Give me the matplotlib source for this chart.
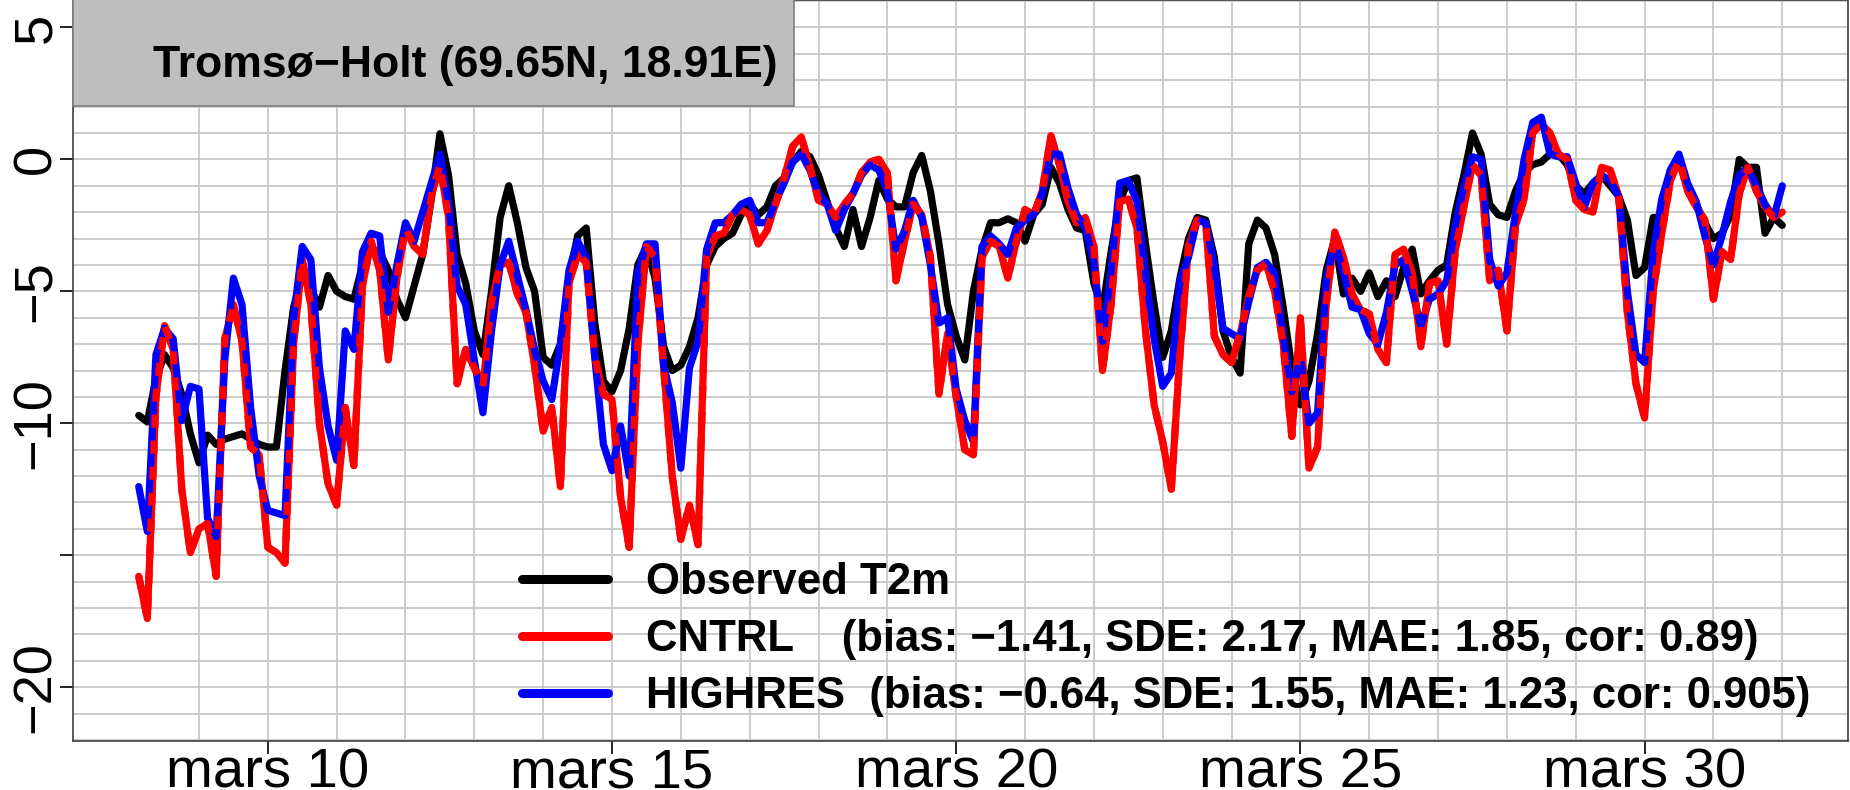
import matplotlib
matplotlib.use("Agg")
import matplotlib.pyplot as plt
from matplotlib.patches import Rectangle
from matplotlib.lines import Line2D
import numpy as np
import pandas as pd

# ---------------- data ----------------
start_time = "2018-03-08 03:00"
n_steps = 192          # 3-hourly values

observed = [
    -9.7, -9.95, -8.3, -7.4, -7.9, -8.9, -10.4, -11.5, -10.45, -10.8,
    -10.6, -10.5, -10.4, -10.6, -10.8, -10.9, -10.9, -8.0, -5.6, -4.4,
    -4.9, -5.6, -4.4, -5.0, -5.2, -5.3, -4.0, -3.4, -3.5, -4.2,
    -5.3, -6.0, -4.8, -3.6, -1.5, 0.97, -0.6, -3.6, -4.7, -6.5,
    -7.4, -5.0, -2.2, -1.0, -2.4, -4.1, -5.0, -7.5, -7.8, -7.0,
    -4.5, -2.9, -2.6, -6.2, -8.4, -8.8, -8.0, -6.4, -4.0, -3.3,
    -4.5, -7.1, -8.0, -7.8, -7.1, -6.0, -4.0, -3.3, -3.0, -2.8,
    -2.1, -1.7, -2.1, -1.8, -1.0, -0.7, -0.1, 0.3, 0.1, -0.6,
    -1.6, -2.6, -3.3, -1.9, -3.3, -2.2, -0.8, -1.5, -1.8, -1.8,
    -0.5, 0.15, -1.2, -3.2, -5.5, -6.7, -7.6, -5.0, -3.4, -2.4,
    -2.4, -2.25, -2.4, -3.1, -2.1, -1.7, -0.3, -0.9, -1.9, -2.6,
    -2.7, -4.7, -5.7, -3.5, -1.6, -0.8, -0.7, -3.2, -5.5, -7.5,
    -6.5, -4.5, -3.0, -2.2, -2.3, -3.7, -6.5, -7.5, -8.1, -3.2,
    -2.3, -2.6, -3.6, -5.6, -7.9, -9.3, -8.4, -6.6, -4.2, -3.0,
    -5.1, -4.5, -5.0, -4.3, -5.2, -4.6, -5.2, -4.1, -3.4, -5.1,
    -4.6, -4.2, -4.0, -2.0, -0.6, 1.0, 0.2, -1.7, -2.1, -2.2,
    -1.2, -0.5, -0.2, -0.1, 0.2, 0.2, -0.2, -1.0, -1.3, -0.9,
    -0.6, -1.0, -1.4, -2.3, -4.4, -4.1, -2.2, -2.2, -0.4, 0.1,
    -1.05, -1.7, -2.4, -3.0, -2.8, -2.1, 0.0, -0.3, -0.3, -2.8,
    -2.2, -2.5,
]

cntrl = [
    -15.8, -17.4, -9.0, -6.3, -7.2, -12.5, -14.9, -14.0, -13.8, -15.8,
    -6.8, -5.5, -6.9, -10.9, -11.2, -14.7, -14.9, -15.3, -7.0, -3.8,
    -5.5, -10.0, -12.3, -13.1, -9.4, -11.6, -4.8, -3.1, -4.2, -7.6,
    -4.5, -2.6, -3.3, -3.6, -1.4, -0.2, -2.2, -8.5, -7.2, -7.9,
    -8.6, -5.4, -4.0, -3.9, -5.1, -5.8, -7.8, -10.3, -9.4, -12.4,
    -4.7, -3.6, -3.9, -7.5, -8.9, -9.1, -12.8, -14.7, -7.0, -3.3,
    -3.7, -7.9, -12.0, -14.4, -13.1, -14.6, -3.7, -2.9, -2.8, -2.1,
    -1.9, -2.1, -3.2, -2.7, -1.7, -0.7, 0.5, 0.85, -0.3, -1.55,
    -1.7, -2.2, -1.7, -1.3, -0.5, -0.1, 0.0, -0.5, -4.6, -3.1,
    -1.7, -2.1, -3.7, -8.9, -6.6, -9.0, -11.0, -11.2, -3.7, -3.1,
    -3.3, -4.5, -3.1, -1.9, -2.1, -1.2, 0.9, -0.2, -1.6, -2.4,
    -2.2, -3.3, -8.0, -5.5, -1.6, -1.5, -2.6, -6.5, -9.3, -10.7,
    -12.5, -7.4, -3.3, -2.3, -2.4, -6.7, -7.4, -7.7, -6.6, -5.2,
    -4.2, -3.95, -5.0, -7.0, -10.5, -6.0, -11.7, -10.9, -5.5, -2.75,
    -3.7, -5.1, -5.7, -5.85, -7.2, -7.7, -3.6, -3.4, -4.3, -7.1,
    -4.7, -4.6, -7.0, -3.45, -1.8, -0.2, -0.6, -4.6, -4.2, -6.5,
    -2.5, -1.5, 1.0, 1.35, 1.0, 0.2, 0.0, -1.55, -1.9, -2.0,
    -0.3, -0.4, -1.4, -5.8, -8.5, -9.8, -5.0, -2.8, -0.8, 0.0,
    -1.2, -1.8, -2.3, -5.3, -3.5, -3.8, -1.3, -0.3, -1.2, -1.8,
    -2.2, -2.0,
]

highres = [
    -12.4, -14.1, -7.4, -6.4, -6.8, -9.9, -8.6, -8.7, -13.6, -14.3,
    -7.6, -4.5, -5.5, -9.4, -12.0, -13.3, -13.4, -13.5, -6.0, -3.3,
    -3.8, -7.9, -10.1, -11.4, -6.5, -7.2, -3.5, -2.8, -2.9, -5.8,
    -4.0, -2.4, -3.1, -2.0, -0.9, 0.2, -1.6, -4.8, -5.5, -7.6,
    -9.6, -6.5, -4.0, -3.1, -4.4, -5.7, -7.2, -8.4, -9.1, -7.0,
    -4.2, -3.1, -3.7, -7.5, -10.8, -11.8, -10.1, -12.0, -4.3, -3.2,
    -3.2, -7.8, -9.2, -11.7, -7.9, -6.9, -3.4, -2.4, -2.4, -2.1,
    -1.7, -1.55, -2.4, -2.4, -1.6, -0.9, -0.1, 0.2, -0.4, -1.3,
    -1.7, -2.7, -1.9, -1.3, -0.6, -0.2, -0.4, -1.2, -3.4, -2.7,
    -1.55, -2.2, -4.0, -6.2, -6.0, -8.7, -9.9, -10.7, -3.3, -2.9,
    -3.2, -3.6, -2.6, -2.3, -2.1, -1.3, 0.2, 0.2, -1.1, -2.1,
    -2.6, -3.9, -6.9, -4.2, -0.9, -0.8, -1.6, -4.3, -6.8, -8.6,
    -8.1, -4.6, -3.7, -2.3, -2.4, -4.0, -6.4, -6.6, -6.8, -5.4,
    -4.1, -3.9, -4.3, -6.7, -8.8, -7.5, -10.0, -9.6, -4.6, -3.1,
    -4.3, -5.6, -5.7, -6.6, -7.0, -5.8, -4.0, -3.8, -5.0, -6.3,
    -5.3, -5.1, -4.6, -2.5, -1.0, 0.1, 0.0, -3.8, -4.8, -4.3,
    -2.0, 0.0, 1.4, 1.6, 0.2, 0.1, 0.1, -0.9, -1.8, -0.9,
    -0.6, -0.8, -1.4, -5.0, -7.4, -7.7, -3.5, -1.5, -0.4, 0.2,
    -0.9, -1.6, -2.9, -4.0, -2.9, -1.6, -0.6, -0.3, -1.0, -1.7,
    -2.2, -1.0,
]

station_title = "Tromsø\u2212Holt (69.65N, 18.91E)"
legend_labels = [
    "Observed T2m",
    "CNTRL    (bias: \u22121.41, SDE: 2.17, MAE: 1.85, cor: 0.89)",
    "HIGHRES  (bias: \u22120.64, SDE: 1.55, MAE: 1.23, cor: 0.905)",
]
xtick_dates = ["2018-03-10", "2018-03-15", "2018-03-20", "2018-03-25", "2018-03-30"]
xtick_labels = ["mars 10", "mars 15", "mars 20", "mars 25", "mars 30"]
ytick_values = [5, 0, -5, -10, -15, -20]
ytick_labels = ["5", "0", "\u22125", "\u221210", "", "\u221220"]
y_range = (-21, 5)

# ---------------- figure ----------------
plt.rcParams["font.family"] = ["Liberation Sans", "DejaVu Sans"]

times = pd.date_range(start_time, periods=n_steps, freq="3h")

W, H = 1850, 790
fig = plt.figure(figsize=(W / 100, H / 100), dpi=100)
ax = fig.add_axes([73 / W, 49 / H, 1775 / W, 741 / H])

lw = 5.2
ax.plot(times, observed, color="black", lw=lw, solid_capstyle="round", zorder=3)
ax.plot(times, cntrl, color="#ff0000", lw=lw, solid_capstyle="round", zorder=4)
ax.plot(times, highres, color="#0000ff", lw=lw, solid_capstyle="round", zorder=5)
ax.plot(times, cntrl, color="#ff0000", lw=lw, dashes=(1.8, 1.8), zorder=6)

span = times[-1] - times[0]
ax.set_xlim(times[0] - 0.04 * span, times[-1] + 0.04 * span)
yext = 0.04 * (y_range[1] - y_range[0])
ax.set_ylim(y_range[0] - yext, y_range[1] + yext)

# ticks & grid
ax.set_xticks(pd.to_datetime(xtick_dates))
ax.set_xticklabels(xtick_labels)
ax.set_xticks(pd.date_range("2018-03-09", "2018-04-01", freq="D"), minor=True)
ax.set_yticks(ytick_values)
ax.set_yticklabels(ytick_labels, rotation=90, va="center")
ax.set_yticks(np.arange(-22, 7), minor=True)

ax.grid(True, which="both", color="#c8c8c8", lw=1.3)
ax.set_axisbelow(True)
ax.tick_params(which="minor", length=0)
ax.tick_params(axis="x", which="major", direction="out", length=9.5, width=1.2,
               labelsize=40.5, pad=-5)
ax.tick_params(axis="y", which="major", direction="out", length=9.5, width=1.2,
               labelsize=39, pad=-1)
for s in ax.spines.values():
    s.set_color("#404040")
    s.set_linewidth(1.2)

# title box
ax.add_patch(Rectangle((0, 0.857), 0.406, 0.16, transform=ax.transAxes,
                       facecolor="#bebebe", edgecolor="#7f7f7f", lw=1.2,
                       zorder=8, clip_on=False))
ax.text(0.045, 0.896, station_title, transform=ax.transAxes, fontsize=32,
        fontweight="bold", va="baseline", ha="left", zorder=9)

# legend
handles = [Line2D([], [], color=c, lw=6.5, solid_capstyle="round")
           for c in ["black", "#ff0000", "#0000ff"]]
ax.legend(handles, legend_labels, loc="upper left", bbox_to_anchor=(0.2528, 0.241),
          frameon=False, prop={"family": "Liberation Sans", "weight": "bold", "size": 31.5},
          handlelength=1.98, handletextpad=0.87, labelspacing=0.36,
          borderpad=0, borderaxespad=0)

fig.savefig("out.png", dpi=100)
